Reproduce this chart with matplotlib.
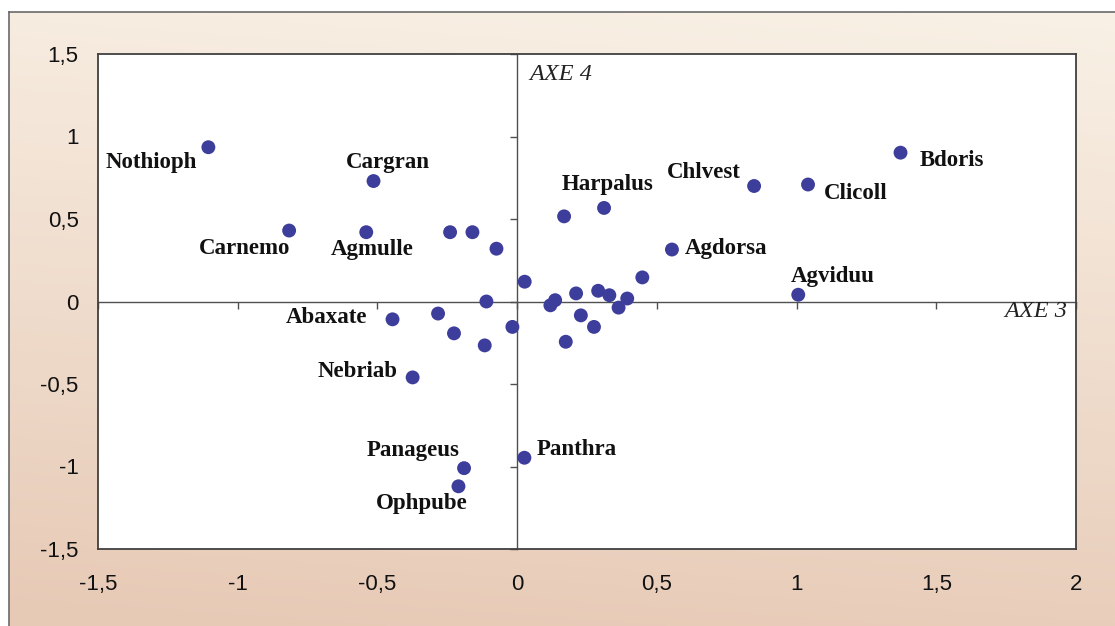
import numpy as np
import matplotlib.pyplot as plt
from matplotlib.ticker import FuncFormatter, MultipleLocator

# species scores on factorial axes 3 (x) and 4 (y)
names = ["Nothioph", "Cargran", "Carnemo", "Agmulle", "", "", "", "", "",
         "Abaxate", "", "", "", "", "Nebriab", "", "Harpalus", "Agdorsa", "",
         "", "", "", "", "", "", "", "", "", "", "Chlvest", "Clicoll", "Bdoris",
         "Agviduu", "Panageus", "Ophpube", "Panthra"]
axe3 = [-1.105, -0.514, -0.816, -0.54, -0.24, -0.16, -0.074, 0.027, -0.11,
        -0.446, -0.283, -0.226, -0.116, -0.017, -0.374, 0.168, 0.311, 0.554, 0.448,
        0.119, 0.136, 0.211, 0.228, 0.174, 0.275, 0.29, 0.33, 0.363, 0.394,
        0.848, 1.041, 1.372, 1.006, -0.19, -0.21, 0.026]
axe4 = [0.935, 0.73, 0.43, 0.42, 0.42, 0.42, 0.32, 0.12, 0.0,
        -0.108, -0.073, -0.193, -0.266, -0.154, -0.46, 0.516, 0.567, 0.315, 0.146,
        -0.023, 0.008, 0.049, -0.084, -0.244, -0.154, 0.065, 0.038, -0.037, 0.018,
        0.70, 0.709, 0.902, 0.041, -1.01, -1.12, -0.947]

# label offsets from the dot, in pixels
offsets = {"Nothioph": (-57, -15), "Cargran": (14, 19), "Carnemo": (-45, -18),
           "Agmulle": (6, -17), "Abaxate": (-66, 2), "Nebriab": (-55, 6),
           "Harpalus": (4, 23), "Agdorsa": (54, 1), "Chlvest": (-50, 14),
           "Clicoll": (48, -9), "Bdoris": (51, -8), "Agviduu": (34, 18),
           "Panageus": (-51, 18), "Ophpube": (-37, -17), "Panthra": (52, 8)}

W, H = 1115, 626
fig = plt.figure(figsize=(W / 100, H / 100), dpi=100)
fig.patch.set_facecolor("white")

# beige gradient panel behind the chart
bg = fig.add_axes([9 / W, 0, 1 - 9 / W, 1 - 12 / H])
top = np.array([249, 241, 230]) / 255
bottom = np.array([231, 202, 182]) / 255
t = np.linspace(0, 1, 256)[:, None]
u = np.linspace(0, 1, 256)[None, :]
mix = np.clip(t * 0.9 + (1 - u) * 0.12, 0, 1)[..., None]
grad = top * (1 - mix) + bottom * mix
bg.imshow(grad, aspect="auto", extent=[0, 1, 0, 1])
bg.set_axis_off()
fig.add_artist(plt.Line2D([9 / W, 9 / W], [0, 1 - 12 / H], color="#6a6a6a", lw=1.2))
fig.add_artist(plt.Line2D([9 / W, 1], [1 - 12 / H, 1 - 12 / H], color="#6a6a6a", lw=1.2))

rect = [98 / W, 1 - 549 / H, 978 / W, 495 / H]

# lower axes: white plot area with the zero lines and their ticks
ax0 = fig.add_axes(rect)
ax0.set_facecolor("white")
ax0.set_xlim(-1.5, 2)
ax0.set_ylim(-1.5, 1.5)
ax0.spines["left"].set_position(("data", 0))
ax0.spines["bottom"].set_position(("data", 0))
ax0.spines["top"].set_visible(False)
ax0.spines["right"].set_visible(False)
for s in ("left", "bottom"):
    ax0.spines[s].set_color("#505050")
    ax0.spines[s].set_linewidth(1.0)
ax0.xaxis.set_major_locator(MultipleLocator(0.5))
ax0.yaxis.set_major_locator(MultipleLocator(0.5))
ax0.tick_params(direction="out", length=5, width=1, color="#505050",
                labelbottom=False, labelleft=False)

# upper axes: frame, tick labels and points
ax = fig.add_axes(rect)
ax.patch.set_alpha(0)
ax.set_xlim(-1.5, 2)
ax.set_ylim(-1.5, 1.5)
for s in ax.spines.values():
    s.set_color("#404040")
    s.set_linewidth(1.3)
ax.xaxis.set_major_locator(MultipleLocator(0.5))
ax.yaxis.set_major_locator(MultipleLocator(0.5))
comma = FuncFormatter(lambda v, p: f"{v:g}".replace(".", ","))
ax.xaxis.set_major_formatter(comma)
ax.yaxis.set_major_formatter(comma)
ax.tick_params(length=0, labelsize=16, labelcolor="#111111")
ax.tick_params(axis="x", pad=18)
ax.tick_params(axis="y", pad=14)
for lab in ax.get_xticklabels() + ax.get_yticklabels():
    lab.set_family("Liberation Sans")

ax.scatter(axe3, axe4, s=100, color="#3d3d9b", edgecolors="none", zorder=3)

for name, x, y in zip(names, axe3, axe4):
    if not name:
        continue
    dx, dy = offsets[name]
    ax.annotate(name, (x, y), xytext=(dx, dy), textcoords="offset pixels",
                ha="center", va="center", fontsize=16.5, fontweight="bold",
                family="Liberation Serif", color="#111111")

ax.annotate("AXE 4", (0, 1.5), xytext=(12, -20), textcoords="offset pixels",
            ha="left", va="center", fontsize=17.5, style="italic",
            family="Liberation Serif", color="#222222")
ax.annotate("AXE 3", (2, 0), xytext=(-9, -10), textcoords="offset pixels",
            ha="right", va="center", fontsize=17.5, style="italic",
            family="Liberation Serif", color="#222222")

fig.savefig("out.png", dpi=100)
